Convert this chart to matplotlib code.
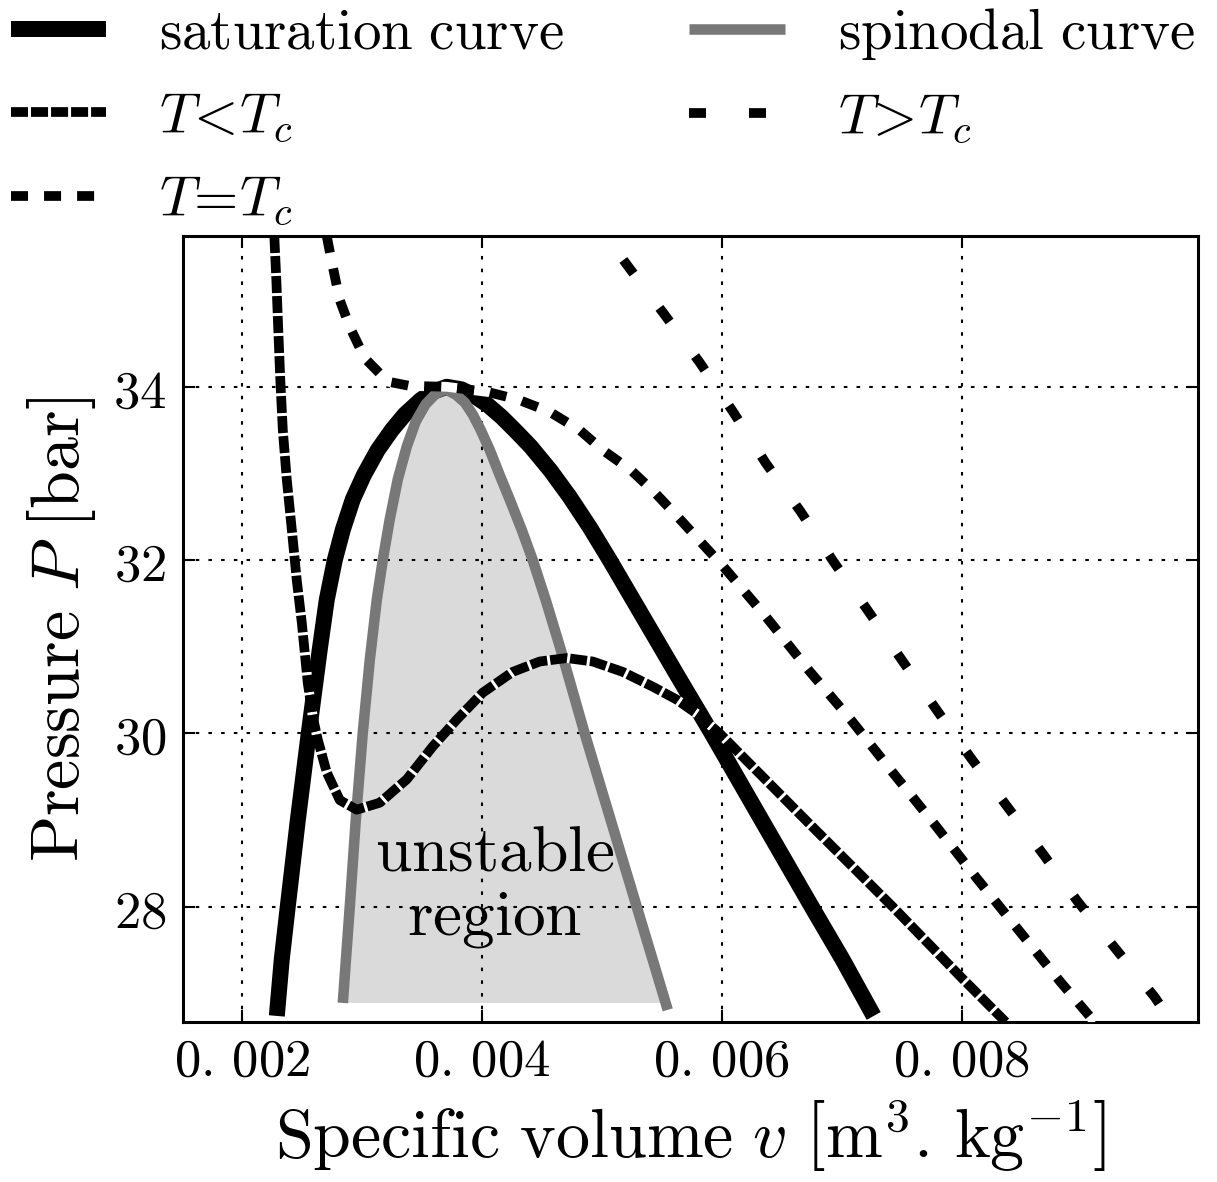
# %%
import numpy as np
import matplotlib
import matplotlib.pyplot as plt

plt.rcParams["mathtext.fontset"] = "cm"
plt.rcParams["axes.unicode_minus"] = False

# %% data (v in m3/kg, P in bar)
sat_v = [0.002292, 0.002333, 0.002383, 0.002467, 0.002558, 0.002650, 0.002708,
         0.002775, 0.002842, 0.002925, 0.003017, 0.003133, 0.003250, 0.003358,
         0.003492, 0.003592, 0.003708, 0.003833, 0.003933, 0.004050, 0.004167,
         0.004283, 0.004408, 0.004575, 0.004733, 0.004900, 0.005067, 0.005325,
         0.005617, 0.005917, 0.006333, 0.006750, 0.007008, 0.007267]
sat_p = [26.74, 27.39, 28.00, 29.00, 30.00, 30.97, 31.54,
         32.00, 32.35, 32.70, 32.98, 33.27, 33.50, 33.68,
         33.85, 33.94, 34.00, 33.97, 33.90, 33.79, 33.65,
         33.49, 33.31, 33.03, 32.73, 32.38, 32.00, 31.39,
         30.70, 30.00, 29.00, 28.00, 27.39, 26.74]

spin_v = [0.002842, 0.002900, 0.002950, 0.003008, 0.003067, 0.003125, 0.003175,
          0.003233, 0.003300, 0.003375, 0.003450, 0.003533, 0.003617, 0.003700,
          0.003783, 0.003858, 0.003925, 0.003992, 0.004067, 0.004150, 0.004233,
          0.004333, 0.004425, 0.004533, 0.004658, 0.004858, 0.005075, 0.005292,
          0.005533, 0.005550]
spin_p = [26.89, 28.00, 29.00, 30.00, 30.85, 31.54, 32.00,
          32.47, 32.93, 33.31, 33.60, 33.80, 33.92, 33.97,
          33.91, 33.82, 33.68, 33.50, 33.27, 32.98, 32.70,
          32.35, 32.00, 31.54, 30.97, 30.00, 29.00, 28.00,
          26.89, 26.81]
fill_pmin = 26.88

low_v = [0.002271, 0.002288, 0.002304, 0.002321, 0.002342, 0.002375, 0.002417,
         0.002458, 0.002500, 0.002550, 0.002592, 0.002633, 0.002708, 0.002817,
         0.002958, 0.003150, 0.003375, 0.003592, 0.003792, 0.004008, 0.004258,
         0.004483, 0.004708, 0.004925, 0.005175, 0.005425, 0.005625, 0.005800,
         0.005983, 0.006700, 0.007425, 0.008000, 0.008367]
low_p = [35.74, 35.23, 34.66, 34.08, 33.50, 32.93, 32.35,
         31.77, 31.28, 30.58, 30.19, 29.93, 29.55, 29.23,
         29.12, 29.20, 29.47, 29.85, 30.16, 30.47, 30.71,
         30.83, 30.87, 30.83, 30.71, 30.54, 30.39, 30.22,
         30.00, 29.00, 28.00, 27.18, 26.67]

crit_v = [0.002708, 0.002750, 0.002817, 0.002900, 0.003025, 0.003217, 0.003400,
          0.003708, 0.004050, 0.004308, 0.004567, 0.004817, 0.005008, 0.005242,
          0.005442, 0.005633, 0.005825, 0.006017, 0.006367, 0.006725, 0.007075,
          0.007425, 0.007775, 0.008125, 0.008475, 0.008825, 0.009108]
crit_p = [35.74, 35.44, 35.00, 34.69, 34.33, 34.06, 34.01,
          34.00, 33.94, 33.85, 33.71, 33.50, 33.27, 33.04,
          32.78, 32.50, 32.21, 31.92, 31.35, 30.73, 30.16,
          29.55, 28.95, 28.33, 27.73, 27.13, 26.67]

high_v = [0.004883, 0.005033, 0.005225, 0.005525, 0.005817, 0.006100, 0.006367,
          0.006658, 0.006933, 0.007217, 0.007500, 0.007792, 0.008075, 0.008383,
          0.008683, 0.008967, 0.009292, 0.009608, 0.009750]
high_p = [36.02, 35.74, 35.38, 34.83, 34.28, 33.70, 33.12,
          32.56, 31.98, 31.42, 30.85, 30.27, 29.72, 29.15,
          28.60, 28.06, 27.50, 26.96, 26.67]

x_ticks = [0.002, 0.004, 0.006, 0.008]
y_ticks = [28, 30, 32, 34]

# %%
fig = plt.figure(figsize=(12.17, 11.82), dpi=100)
ax = fig.add_axes([183 / 1217, 1 - 1022 / 1182, 1015 / 1217, 786 / 1182])

l_sat, = ax.plot(sat_v, sat_p, c="k", lw=11.5, solid_capstyle="butt",
                 solid_joinstyle="round", label=r"$\mathrm{saturation\ curve}$", zorder=2)

sv, sp = np.array(spin_v), np.array(spin_p)
keep = sp >= fill_pmin
ax.fill(sv[keep], sp[keep], color="0.855", lw=0, zorder=1)
l_spin, = ax.plot(spin_v, spin_p, c="0.47", lw=7.6, solid_capstyle="butt",
                  solid_joinstyle="round", label=r"$\mathrm{spinodal\ curve}$", zorder=3)

iso = dict(c="k", lw=7, dash_capstyle="butt", zorder=4)
l_low, = ax.plot(low_v, low_p, ls=(0, (1.75, 0.31)), gapcolor="white",
                 label=r"$T\!<\!T_c$", **iso)
l_crit, = ax.plot(crit_v, crit_p, ls=(0, (1.75, 1.65)), gapcolor="white",
                  label=r"$T\!=\!T_c$", **iso)
l_high, = ax.plot(high_v, high_p, ls=(0, (1.75, 4.42)), label=r"$T\!>\!T_c$", **iso)

ax.text(0.004108, 28.25, "$\\mathrm{unstable}$\n$\\mathrm{region}$", fontsize=47,
        ha="center", va="center", multialignment="center", linespacing=1.0, zorder=5)

ax.set_xlim(0.00151, 0.00997)
ax.set_ylim(26.67, 35.74)
ax.set_xticks(x_ticks)
ax.set_xticklabels([("$%.3f$" % t).replace(".", r".\,") for t in x_ticks])
ax.set_yticks(y_ticks)
ax.set_yticklabels(["$%d$" % t for t in y_ticks])
ax.tick_params(direction="in", top=True, right=True, length=8.6, width=1.5,
               labelsize=38, pad=12)
ax.tick_params(axis="x", pad=9)
for s in ax.spines.values():
    s.set_linewidth(2.2)
ax.grid(True, color="k", lw=1.5, ls=(0, (1.7, 4.4)), zorder=2.5)

ax.set_xlabel(r"$\mathrm{Specific\ volume}\ v\ \left[\mathrm{m}^3.\,\mathrm{kg}^{-1}\right]$",
              fontsize=49, labelpad=8)
ax.set_ylabel(r"$\mathrm{Pressure}\ P\ [\mathrm{bar}]$", fontsize=49, labelpad=11)

handles = [l_sat, l_low, l_crit, l_spin, l_high]
fig.legend(handles=handles, loc="upper left", bbox_to_anchor=(0.004, 1.0), ncol=2,
           frameon=False, fontsize=41, handlelength=1.68, handletextpad=0.93,
           columnspacing=2.2, labelspacing=0.5, borderpad=0.1, borderaxespad=0.0)

fig.savefig("out.png", dpi=100)
